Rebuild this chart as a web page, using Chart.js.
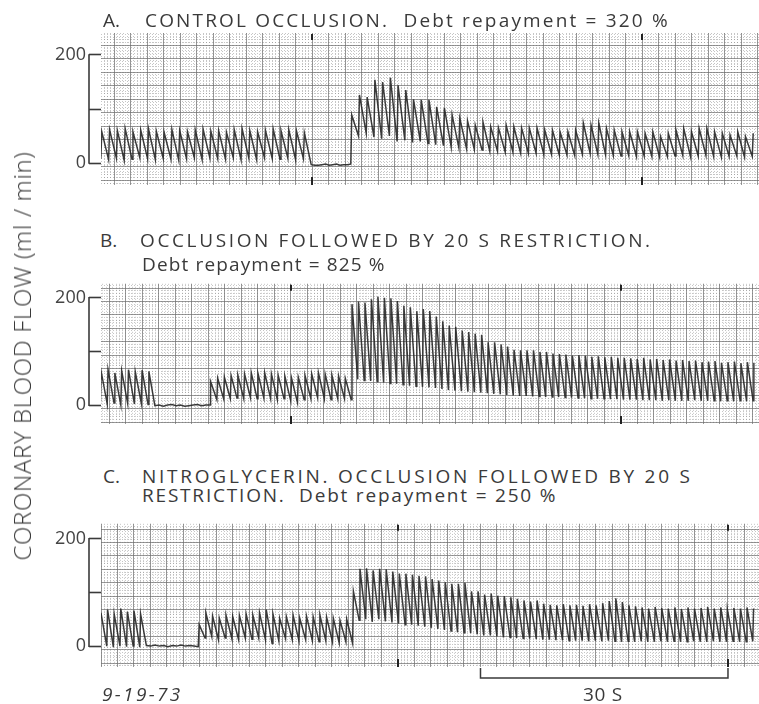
<!DOCTYPE html>
<html><head><meta charset="utf-8">
<script src="https://cdn.jsdelivr.net/npm/chart.js@4.4.1/dist/chart.umd.min.js"></script>
<style>
html,body{margin:0;padding:0;background:#fff;}
body{width:759px;height:704px;position:relative;overflow:hidden;font-family:"Open Sans",Lato,sans-serif;color:#3a3a3a;}
canvas{position:absolute;left:0;}
.t{position:absolute;white-space:pre;font-size:19px;line-height:19px;font-weight:400;}
#ylab{position:absolute;left:22px;top:356px;white-space:nowrap;font-size:24px;line-height:24px;font-weight:300;transform:translate(-50%,-50%) rotate(-90deg);}
</style></head><body>
<canvas id="cA" width="759" height="200" style="top:0px;width:759px;height:200px"></canvas>
<canvas id="cB" width="759" height="170" style="top:270px;width:759px;height:170px"></canvas>
<canvas id="cC" width="759" height="194" style="top:510px;width:759px;height:194px"></canvas>

<div class="t" style="left:103px;top:11px">A.</div>
<div class="t" style="left:145px;top:11px" data-w="523">CONTROL OCCLUSION.  Debt repayment = 320 %</div>
<div class="t" style="left:100px;top:231px">B.</div>
<div class="t" style="left:140px;top:231px" data-w="510">OCCLUSION FOLLOWED BY 20 S RESTRICTION.</div>
<div class="t" style="left:142px;top:255px" data-w="243">Debt repayment = 825 %</div>
<div class="t" style="left:103px;top:467px">C.</div>
<div class="t" style="left:142px;top:467px" data-w="548">NITROGLYCERIN. OCCLUSION FOLLOWED BY 20 S</div>
<div class="t" style="left:142px;top:486px" data-w="413">RESTRICTION.  Debt repayment = 250 %</div>
<div id="ylab" data-w="408">CORONARY BLOOD FLOW (ml / min)</div>
<div class="t" style="left:102px;top:685px;font-style:italic" data-w="78">9-19-73</div>
<div class="t" style="left:583px;top:685px" data-w="39">30 S</div>

<script>
// ---------- data (flow in ml/min, time in s relative to first timing mark) ----------
const yTickValues = [0, 100, 200];
const yTickLabels = ['0', '', '200'];
const timeMarks = [0, 40];
const scaleBarSpan = [10, 40];

// Panel A: control occlusion
const aCtrlSpan = [-25.6, -0.1];
const aCtrlPeaks = [58,62,60,64,58,61,63,59,57,62,60,58,61,63,59,60,57,62,64,60,58,61,63,60,62,59,56];
const aCtrlTroughs = [8,6,9,5,7,10,8,6,9,7,5,8,10,6,9,8,7,10,6,9,6,10,8,7,9,6,8];
const aOcclSpan = [-0.1, 4.7];
const aOcclLevels = [-3,-4,-4,-3,-2,-4,-3,-2,-4,-3,-3,-2];
const aPostSpan = [4.7, 54.3];
const aPostPeaks = [89,126,122,154,150,158,144,135,118,117,117,104,102,89,83,78,70,76,67,65,70,67,65,65,65,61,61,57,58,61,74,70,74,64,61,58,58,58,55,58,49,55,61,64,58,64,64,58,55,52,58,49,55];
const aPostTroughs = [-3,50,55,48,45,50,40,42,38,40,36,34,32,30,28,26,25,24,22,22,20,20,18,18,18,16,16,15,15,14,16,18,16,15,14,13,14,12,13,12,11,12,13,14,12,13,14,12,11,12,13,11,12];

// Panel B: occlusion followed by 20 s restriction
const bCtrlSpan = [-23.1, -16.5];
const bCtrlPeaks = [62,66,60,64,66,62,65,63];
const bCtrlTroughs = [5,2,4,0,3,2,4,1];
const bOcclSpan = [-16.5, -9.8];
const bOcclLevels = [-1,0,-2,0,1,-1,0,-2,-1,0,1,-1,0,0];
const bRestrSpan = [-9.8, 7.3];
const bRestrPeaks = [44,50,52,55,56,58,60,59,60,58,56,54,50,52,55,58,60,58,56,54,50];
const bRestrTroughs = [0,10,12,12,13,12,14,12,13,12,10,12,8,5,10,12,14,12,10,12,12];
const bPostSpan = [7.3, 56.8];
const bPostPeaks = [188,193,191,197,202,200,199,194,185,182,175,179,175,165,156,148,146,139,136,133,131,117,117,113,109,103,102,102,102,99,99,96,
  95,94,92,93,92,90,91,89,90,88,88,87,86,88,85,86,84,85,83,84,82,83,80,81,82,79,80,81,78,80,79];
const bPostTroughs = [10,48,46,45,44,42,40,40,38,36,35,34,33,32,30,28,27,26,25,24,23,22,21,20,19,18,17,17,16,16,15,15,
  15,14,14,13,13,12,12,12,11,11,10,10,10,9,9,9,8,9,8,8,8,9,8,8,8,7,8,7,8,7,8];

// Panel C: nitroglycerin, occlusion followed by 20 s restriction
const cCtrlSpan = [-36.1, -30.5];
const cCtrlPeaks = [62,68,60,70,64,66,60];
const cCtrlTroughs = [2,0,-2,0,-1,0,-2];
const cOcclSpan = [-30.5, -24.2];
const cOcclLevels = [1,0,2,0,1,-1,1,0,2,0,1,0,-1];
const cRestrSpan = [-24.2, -5.5];
const cRestrPeaks = [40,62,56,52,58,55,57,60,58,62,68,60,52,55,58,52,56,55,58,54,52,48,50];
const cRestrTroughs = [2,15,18,12,15,14,12,15,13,15,12,5,10,14,12,10,12,10,8,10,8,6,8];
const cPostSpan = [-5.5, 43.8];
const cPostPeaks = [102,144,145,141,144,143,139,135,135,133,131,130,125,122,119,116,116,118,102,102,96,98,94,93,91,88,85,83,85,79,77,76,
  78,76,77,75,78,76,80,84,89,82,76,74,72,70,73,71,70,72,69,72,70,71,73,70,72,69,71,70,72,70];
const cPostTroughs = [5,48,50,45,50,46,44,42,40,40,38,36,34,32,30,28,26,25,24,22,20,20,18,16,16,15,14,14,13,12,12,11,
  11,10,10,10,9,10,9,10,9,8,9,8,9,8,8,9,8,9,8,8,9,8,8,9,8,8,9,8,8,9];

// ---------- build traces ----------
function beats(span, peaks, troughs, out) {
  const n = peaks.length, P = (span[1] - span[0]) / n;
  for (let i = 0; i < n; i++) {
    const t0 = span[0] + i * P;
    out.push({x: t0, y: troughs[i]});
    out.push({x: t0 + 0.12 * P, y: peaks[i]});
  }
  return out;
}
function flat(span, levels, out) {
  const n = levels.length;
  for (let i = 0; i < n; i++) out.push({x: span[0] + i * (span[1] - span[0]) / (n - 1), y: levels[i]});
  return out;
}
const traceA = [], traceB = [], traceC = [];
beats(aCtrlSpan, aCtrlPeaks, aCtrlTroughs, traceA); flat(aOcclSpan, aOcclLevels, traceA); beats(aPostSpan, aPostPeaks, aPostTroughs, traceA);
beats(bCtrlSpan, bCtrlPeaks, bCtrlTroughs, traceB); flat(bOcclSpan, bOcclLevels, traceB); beats(bRestrSpan, bRestrPeaks, bRestrTroughs, traceB); beats(bPostSpan, bPostPeaks, bPostTroughs, traceB);
beats(cCtrlSpan, cCtrlPeaks, cCtrlTroughs, traceC); flat(cOcclSpan, cOcclLevels, traceC); beats(cRestrSpan, cRestrPeaks, cRestrTroughs, traceC); beats(cPostSpan, cPostPeaks, cPostTroughs, traceC);

// ---------- chart factory ----------
const INK = '#3a3a3a';
const FONT = {family: '"Open Sans", Lato, sans-serif', size: 18, weight: 400};
const gridShift = 7;

const bracketPlugin = {
  id: 'bracket',
  afterDraw(chart) {
    const s = chart.scales.yLab, ctx = chart.ctx, x = chart.chartArea.left - 12;
    ctx.save(); ctx.strokeStyle = INK; ctx.lineWidth = 1.6;
    ctx.beginPath(); ctx.moveTo(x, s.getPixelForValue(yTickValues[0]) + 0.8); ctx.lineTo(x, s.getPixelForValue(yTickValues[yTickValues.length - 1]) - 0.8); ctx.stroke();
    ctx.restore();
  }
};
const marksPlugin = {
  id: 'marks',
  afterDatasetsDraw(chart) {
    const xs = chart.scales.x, ctx = chart.ctx, a = chart.chartArea;
    ctx.save(); ctx.strokeStyle = '#222'; ctx.lineWidth = 2;
    timeMarks.forEach(t => {
      const px = xs.getPixelForValue(t);
      ctx.beginPath(); ctx.moveTo(px, a.top + 1); ctx.lineTo(px, a.top + 7); ctx.stroke();
      ctx.beginPath(); ctx.moveTo(px, a.bottom - 8); ctx.lineTo(px, a.bottom); ctx.stroke();
    });
    ctx.restore();
  }
};
const scaleBarPlugin = {
  id: 'scalebar',
  afterDraw(chart) {
    const xs = chart.scales.x, ctx = chart.ctx, a = chart.chartArea;
    const x0 = xs.getPixelForValue(scaleBarSpan[0]), x1 = xs.getPixelForValue(scaleBarSpan[1]);
    const y = a.bottom + 11;
    ctx.save(); ctx.strokeStyle = INK; ctx.lineWidth = 1.5;
    ctx.beginPath(); ctx.moveTo(x0, a.bottom + 1); ctx.lineTo(x0, y); ctx.lineTo(x1, y); ctx.lineTo(x1, a.bottom + 1); ctx.stroke();
    ctx.restore();
  }
};

function makePanel(id, trace, xmin, xmax, ymin, ymax, pad, extra) {
  const gridCommon = {drawTicks: false};
  new Chart(document.getElementById(id), {
    type: 'line',
    data: {datasets: [{data: trace, borderColor: 'rgba(38,38,38,0.9)', borderWidth: 1.5, pointRadius: 0, tension: 0, fill: false}]},
    options: {
      responsive: false, animation: false, devicePixelRatio: 1, parsing: false, normalized: true,
      layout: {padding: {left: 41, right: 0, top: pad[0], bottom: pad[1]}},
      plugins: {legend: {display: false}, tooltip: {enabled: false}, title: {display: false}},
      scales: {
        x: {type: 'linear', min: xmin, max: xmax, ticks: {display: false, stepSize: 2, includeBounds: false},
            grid: {...gridCommon, color: 'rgba(110,110,110,0.7)', lineWidth: 1}, border: {display: false}},
        xMinor: {type: 'linear', position: 'bottom', min: xmin, max: xmax, ticks: {display: false, stepSize: 0.4, includeBounds: false},
            grid: {...gridCommon, color: 'rgba(120,120,120,0.42)', lineWidth: 1}, border: {display: false, dash: [1, 2]}},
        y: {type: 'linear', display: false, min: ymin, max: ymax},
        yMaj: {type: 'linear', position: 'left', min: ymin + gridShift, max: ymax + gridShift, ticks: {display: false, stepSize: 25, includeBounds: false},
            grid: {...gridCommon, color: 'rgba(110,110,110,0.7)', lineWidth: 1}, border: {display: false}},
        yMinor: {type: 'linear', position: 'left', min: ymin + gridShift, max: ymax + gridShift, ticks: {display: false, stepSize: 5, includeBounds: false},
            grid: {...gridCommon, color: 'rgba(120,120,120,0.42)', lineWidth: 1}, border: {display: false, dash: [1, 2]}},
        yLab: {type: 'linear', position: 'left', min: ymin, max: ymax,
            afterBuildTicks: s => { s.ticks = yTickValues.map(v => ({value: v})); },
            afterFit: s => { s.width = 60; },
            ticks: {display: true, autoSkip: false, padding: 3, color: '#444', font: FONT,
                    callback: (v) => yTickLabels[yTickValues.indexOf(v)]},
            grid: {drawOnChartArea: false, drawTicks: true, tickLength: 12, tickColor: INK, tickWidth: 1.6},
            border: {display: false}}
      }
    },
    plugins: [bracketPlugin, marksPlugin].concat(extra || [])
  });
}

makePanel('cA', traceA, -25.58, 54.18, -40.7, 240.7, [33, 15]);
makePanel('cB', traceB, -23.03, 56.73, -35.2, 225.9, [13, 16]);
makePanel('cC', traceC, -36.0, 43.76, -38.9, 227.8, [13, 37], [scaleBarPlugin]);

// ---------- fit text widths ----------
function fitText() {
  document.querySelectorAll('[data-w]').forEach(el => {
    el.style.letterSpacing = '0px';
    const w = el.offsetWidth, n = el.textContent.length;
    el.style.letterSpacing = ((+el.dataset.w - w) / Math.max(1, n - 1)) + 'px';
  });
}
fitText();
if (document.fonts && document.fonts.ready) document.fonts.ready.then(fitText);
</script>
</body></html>
